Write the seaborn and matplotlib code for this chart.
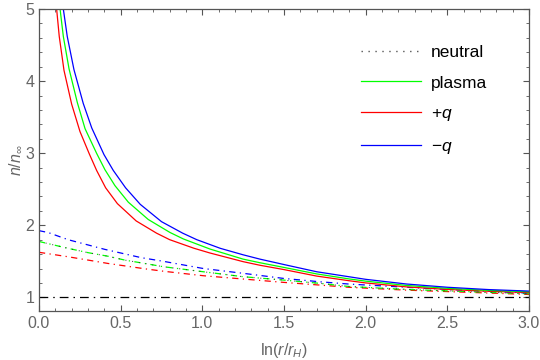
import numpy as np
import pandas as pd
import matplotlib
matplotlib.use("Agg")
import matplotlib.pyplot as plt
from matplotlib.lines import Line2D
from matplotlib.ticker import MultipleLocator
import seaborn as sns

# solid curves
x_plasma = [0.129, 0.149, 0.184, 0.235, 0.282, 0.353, 0.404, 0.465, 0.547, 0.669, 0.802, 0.884, 1.047, 1.25, 1.353, 1.5, 1.7, 1.9, 2.0, 2.25, 2.5, 2.75, 3.0]
y_plasma = [5.0, 4.62, 4.17, 3.70, 3.34, 2.997, 2.77, 2.55, 2.32, 2.08, 1.90, 1.81, 1.67, 1.53, 1.48, 1.415, 1.325, 1.255, 1.225, 1.165, 1.125, 1.097, 1.077]
x_plus = [0.108, 0.124, 0.153, 0.200, 0.251, 0.308, 0.353, 0.408, 0.48, 0.595, 0.72, 0.80, 0.95, 1.047, 1.25, 1.353, 1.5, 1.7, 1.9, 2.0, 2.25, 2.5, 2.75, 3.0]
y_plus = [5.0, 4.62, 4.15, 3.68, 3.30, 2.99, 2.76, 2.52, 2.30, 2.06, 1.89, 1.80, 1.68, 1.615, 1.495, 1.445, 1.385, 1.295, 1.23, 1.20, 1.145, 1.11, 1.085, 1.066]
x_minus = [0.149, 0.173, 0.214, 0.271, 0.323, 0.398, 0.455, 0.53, 0.62, 0.75, 0.88, 0.966, 1.11, 1.25, 1.353, 1.5, 1.7, 1.9, 2.0, 2.25, 2.5, 2.75, 3.0]
y_minus = [5.0, 4.62, 4.16, 3.69, 3.35, 2.98, 2.76, 2.52, 2.29, 2.05, 1.89, 1.80, 1.68, 1.59, 1.53, 1.455, 1.355, 1.285, 1.25, 1.185, 1.14, 1.108, 1.087]

# dash-dot curves
xd_minus = [0.0, 0.055, 0.178, 0.402, 0.627, 0.761, 1.006, 1.251, 1.496, 1.72, 1.90, 2.25, 2.5, 3.0]
yd_minus = [1.925, 1.90, 1.80, 1.666, 1.55, 1.50, 1.40, 1.333, 1.263, 1.216, 1.184, 1.14, 1.11, 1.06]
xd_plasma = [0.0, 0.178, 0.30, 0.423, 0.525, 0.647, 0.761, 1.006, 1.251, 1.496, 1.72, 1.90, 2.25, 2.5, 3.0]
yd_plasma = [1.775, 1.68, 1.62, 1.57, 1.517, 1.47, 1.425, 1.355, 1.286, 1.24, 1.194, 1.15, 1.11, 1.09, 1.05]
xd_plus = [0.0, 0.178, 0.30, 0.423, 0.545, 0.667, 0.77, 1.006, 1.251, 1.496, 1.72, 1.90, 2.25, 2.5, 3.0]
yd_plus = [1.625, 1.563, 1.517, 1.47, 1.43, 1.39, 1.36, 1.30, 1.254, 1.208, 1.17, 1.139, 1.10, 1.08, 1.04]

x_neutral = [0.0, 3.0]
y_neutral = [1.0, 1.0]

legend_labels = ["neutral", "plasma", "+$q$", "\u2212$q$"]

plt.rcParams['font.family'] = ['Liberation Sans', 'DejaVu Sans']
plt.rcParams['mathtext.fontset'] = 'custom'
plt.rcParams['mathtext.rm'] = 'Liberation Sans'
plt.rcParams['mathtext.it'] = 'Liberation Sans:italic'

fig = plt.figure(figsize=(5.4, 3.6), dpi=100)
ax = fig.add_axes([0.0722, 0.136, 0.9074, 0.839])

gray = '#666666'
dd = (0, (5, 3.5, 1, 3.5))
lw = 0.9

sns.lineplot(x=x_neutral, y=y_neutral, ax=ax, color='black', lw=lw, linestyle=(0, (7, 4, 1.2, 4)), estimator=None, sort=False)
sns.lineplot(x=xd_plus, y=yd_plus, ax=ax, color=(1, 0, 0), lw=lw, linestyle=dd, estimator=None, sort=False)
sns.lineplot(x=xd_plasma, y=yd_plasma, ax=ax, color=(0, 1, 0), lw=lw, linestyle=dd, estimator=None, sort=False)
sns.lineplot(x=xd_plasma, y=yd_plasma, ax=ax, color='#333333', lw=0.7, linestyle=(0, (1, 6)), estimator=None, sort=False)
sns.lineplot(x=xd_minus, y=yd_minus, ax=ax, color=(0, 0, 1), lw=lw, linestyle=dd, estimator=None, sort=False)

sns.lineplot(x=x_plus, y=y_plus, ax=ax, color=(1, 0, 0), lw=lw, estimator=None, sort=False)
sns.lineplot(x=x_plasma, y=y_plasma, ax=ax, color=(0, 1, 0), lw=lw, estimator=None, sort=False)
sns.lineplot(x=x_minus, y=y_minus, ax=ax, color=(0, 0, 1), lw=lw, estimator=None, sort=False)

ax.set_xlim(0, 3)
ax.set_ylim(0.81, 5)
ax.xaxis.set_major_locator(MultipleLocator(0.5))
ax.xaxis.set_minor_locator(MultipleLocator(0.1))
ax.yaxis.set_major_locator(MultipleLocator(1))
ax.yaxis.set_minor_locator(MultipleLocator(0.2))
ax.set_xticklabels([f"{v:.1f}" for v in ax.get_xticks()])
ax.tick_params(which='both', direction='in', top=True, right=True, colors='#555555', labelcolor=gray, labelsize=11.5)
ax.tick_params(which='major', length=4, width=0.8)
ax.tick_params(which='minor', length=2.2, width=0.6)
for s in ax.spines.values():
    s.set_color('#555555')
    s.set_linewidth(0.9)

ax.set_xlabel('ln($r$/$r_H$)', color=gray, fontsize=11.5, labelpad=7)
ax.set_ylabel('$n$/$n_\\infty$', color=gray, fontsize=11.5, labelpad=1)

handles = [
    Line2D([], [], color='#555555', lw=1.0, linestyle=(0, (1, 4))),
    Line2D([], [], color=(0, 1, 0), lw=lw),
    Line2D([], [], color=(1, 0, 0), lw=lw),
    Line2D([], [], color=(0, 0, 1), lw=lw),
]
leg = ax.legend(handles, legend_labels, loc='upper left', bbox_to_anchor=(0.657, 0.882),
                borderaxespad=0, borderpad=0, frameon=False, fontsize=12.5,
                handlelength=3.45, handletextpad=0.58, labelspacing=0.9)

fig.savefig('out.png', dpi=100)
